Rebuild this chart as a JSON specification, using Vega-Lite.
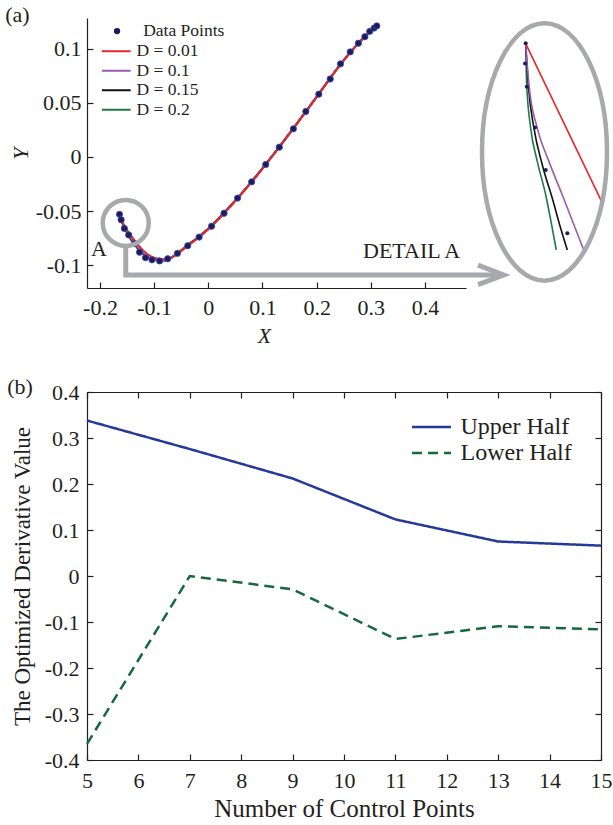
{
  "$schema": "https://vega.github.io/schema/vega-lite/v6.json",
  "background": "white",
  "padding": {"left": 5, "top": 4, "right": 0, "bottom": 0},
  "spacing": 30,
  "resolve": {"scale": {"stroke": "independent", "strokeDash": "independent", "fill": "independent"}, "legend": {"stroke": "independent", "strokeDash": "independent", "fill": "independent"}},
  "config": {
    "font": "Liberation Serif",
    "view": {"stroke": null},
    "axis": {"grid": false, "domainColor": "#231f20", "tickColor": "#231f20", "labelColor": "#231f20", "titleColor": "#231f20", "labelFont": "Liberation Serif", "titleFont": "Liberation Serif", "labelFontSize": 22, "titleFontSize": 22, "titleFontWeight": "normal", "tickSize": -6, "domainWidth": 1.2, "tickWidth": 1.2, "labelFlush": false, "labelOverlap": false},
    "legend": {"labelFont": "Liberation Serif", "labelColor": "#231f20"},
    "title": {"font": "Liberation Serif", "fontWeight": "normal", "fontSize": 22, "color": "#231f20", "anchor": "start", "frame": "bounds"}
  },
  "datasets": {
    "points": [
      {"x": -0.164, "y": -0.053}, {"x": -0.161, "y": -0.058}, {"x": -0.155, "y": -0.066}, {"x": -0.147, "y": -0.072},
      {"x": -0.136, "y": -0.080}, {"x": -0.127, "y": -0.088}, {"x": -0.116, "y": -0.093}, {"x": -0.104, "y": -0.095},
      {"x": -0.090, "y": -0.096}, {"x": -0.075, "y": -0.094}, {"x": -0.057, "y": -0.089}, {"x": -0.038, "y": -0.082},
      {"x": -0.017, "y": -0.074}, {"x": 0.006, "y": -0.064}, {"x": 0.029, "y": -0.052}, {"x": 0.054, "y": -0.038},
      {"x": 0.080, "y": -0.023}, {"x": 0.106, "y": -0.007}, {"x": 0.131, "y": 0.009}, {"x": 0.157, "y": 0.026},
      {"x": 0.180, "y": 0.042}, {"x": 0.204, "y": 0.058}, {"x": 0.225, "y": 0.072}, {"x": 0.244, "y": 0.086},
      {"x": 0.262, "y": 0.097}, {"x": 0.277, "y": 0.105}, {"x": 0.289, "y": 0.111}, {"x": 0.298, "y": 0.116},
      {"x": 0.306, "y": 0.119}, {"x": 0.311, "y": 0.121}
    ],
    "curves": [
      {"series": "D = 0.2", "x": -0.1645, "y": -0.0535}, {"series": "D = 0.2", "x": -0.155, "y": -0.0655}, {"series": "D = 0.2", "x": -0.14, "y": -0.0785}, {"series": "D = 0.2", "x": -0.12, "y": -0.0895}, {"series": "D = 0.2", "x": -0.10, "y": -0.0950}, {"series": "D = 0.2", "x": -0.08, "y": -0.0955}, {"series": "D = 0.2", "x": -0.06, "y": -0.0900}, {"series": "D = 0.2", "x": -0.04, "y": -0.0820}, {"series": "D = 0.2", "x": -0.02, "y": -0.0745}, {"series": "D = 0.2", "x": 0.0, "y": -0.0660}, {"series": "D = 0.2", "x": 0.04, "y": -0.0455}, {"series": "D = 0.2", "x": 0.08, "y": -0.0225}, {"series": "D = 0.2", "x": 0.12, "y": 0.0025}, {"series": "D = 0.2", "x": 0.16, "y": 0.0285}, {"series": "D = 0.2", "x": 0.20, "y": 0.0555}, {"series": "D = 0.2", "x": 0.24, "y": 0.0830}, {"series": "D = 0.2", "x": 0.27, "y": 0.1013}, {"series": "D = 0.2", "x": 0.29, "y": 0.1118}, {"series": "D = 0.2", "x": 0.312, "y": 0.1215},
      {"series": "D = 0.15", "x": -0.164, "y": -0.0540}, {"series": "D = 0.15", "x": -0.155, "y": -0.0650}, {"series": "D = 0.15", "x": -0.14, "y": -0.0780}, {"series": "D = 0.15", "x": -0.12, "y": -0.0893}, {"series": "D = 0.15", "x": -0.10, "y": -0.0950}, {"series": "D = 0.15", "x": -0.08, "y": -0.0955}, {"series": "D = 0.15", "x": -0.06, "y": -0.0902}, {"series": "D = 0.15", "x": -0.04, "y": -0.0822}, {"series": "D = 0.15", "x": -0.02, "y": -0.0748}, {"series": "D = 0.15", "x": 0.0, "y": -0.0663}, {"series": "D = 0.15", "x": 0.04, "y": -0.0457}, {"series": "D = 0.15", "x": 0.08, "y": -0.0228}, {"series": "D = 0.15", "x": 0.12, "y": 0.0022}, {"series": "D = 0.15", "x": 0.16, "y": 0.0285}, {"series": "D = 0.15", "x": 0.20, "y": 0.0555}, {"series": "D = 0.15", "x": 0.24, "y": 0.0830}, {"series": "D = 0.15", "x": 0.27, "y": 0.1012}, {"series": "D = 0.15", "x": 0.29, "y": 0.1117}, {"series": "D = 0.15", "x": 0.312, "y": 0.1215},
      {"series": "D = 0.1", "x": -0.1638, "y": -0.0545}, {"series": "D = 0.1", "x": -0.155, "y": -0.0640}, {"series": "D = 0.1", "x": -0.14, "y": -0.0770}, {"series": "D = 0.1", "x": -0.12, "y": -0.0888}, {"series": "D = 0.1", "x": -0.10, "y": -0.0948}, {"series": "D = 0.1", "x": -0.08, "y": -0.0955}, {"series": "D = 0.1", "x": -0.06, "y": -0.0903}, {"series": "D = 0.1", "x": -0.04, "y": -0.0824}, {"series": "D = 0.1", "x": -0.02, "y": -0.0750}, {"series": "D = 0.1", "x": 0.0, "y": -0.0665}, {"series": "D = 0.1", "x": 0.04, "y": -0.0458}, {"series": "D = 0.1", "x": 0.08, "y": -0.0230}, {"series": "D = 0.1", "x": 0.12, "y": 0.0020}, {"series": "D = 0.1", "x": 0.16, "y": 0.0284}, {"series": "D = 0.1", "x": 0.20, "y": 0.0554}, {"series": "D = 0.1", "x": 0.24, "y": 0.0829}, {"series": "D = 0.1", "x": 0.27, "y": 0.1011}, {"series": "D = 0.1", "x": 0.29, "y": 0.1116}, {"series": "D = 0.1", "x": 0.312, "y": 0.1215},
      {"series": "D = 0.01", "x": -0.1636, "y": -0.0551}, {"series": "D = 0.01", "x": -0.155, "y": -0.0635}, {"series": "D = 0.01", "x": -0.14, "y": -0.0745}, {"series": "D = 0.01", "x": -0.12, "y": -0.0865}, {"series": "D = 0.01", "x": -0.10, "y": -0.0930}, {"series": "D = 0.01", "x": -0.08, "y": -0.0945}, {"series": "D = 0.01", "x": -0.06, "y": -0.0905}, {"series": "D = 0.01", "x": -0.04, "y": -0.0828}, {"series": "D = 0.01", "x": -0.02, "y": -0.0752}, {"series": "D = 0.01", "x": 0.0, "y": -0.0668}, {"series": "D = 0.01", "x": 0.04, "y": -0.0462}, {"series": "D = 0.01", "x": 0.08, "y": -0.0233}, {"series": "D = 0.01", "x": 0.12, "y": 0.0018}, {"series": "D = 0.01", "x": 0.16, "y": 0.0283}, {"series": "D = 0.01", "x": 0.20, "y": 0.0553}, {"series": "D = 0.01", "x": 0.24, "y": 0.0828}, {"series": "D = 0.01", "x": 0.27, "y": 0.1010}, {"series": "D = 0.01", "x": 0.29, "y": 0.1115}, {"series": "D = 0.01", "x": 0.312, "y": 0.1215}
    ],
    "insetCurves": [
      {"series": "D = 0.2", "x": 0.5859, "y": 0.1046}, {"series": "D = 0.2", "x": 0.5878, "y": 0.0665}, {"series": "D = 0.2", "x": 0.5952, "y": 0.0264}, {"series": "D = 0.2", "x": 0.6074, "y": -0.0043}, {"series": "D = 0.2", "x": 0.6229, "y": -0.0351}, {"series": "D = 0.2", "x": 0.6350, "y": -0.0659}, {"series": "D = 0.2", "x": 0.6424, "y": -0.0859},
      {"series": "D = 0.15", "x": 0.5859, "y": 0.1046}, {"series": "D = 0.15", "x": 0.5907, "y": 0.0665}, {"series": "D = 0.15", "x": 0.6012, "y": 0.0264}, {"series": "D = 0.15", "x": 0.6166, "y": -0.0074}, {"series": "D = 0.15", "x": 0.6350, "y": -0.0382}, {"series": "D = 0.15", "x": 0.6505, "y": -0.0659}, {"series": "D = 0.15", "x": 0.6627, "y": -0.0859},
      {"series": "D = 0.1", "x": 0.5859, "y": 0.1046}, {"series": "D = 0.1", "x": 0.5920, "y": 0.0665}, {"series": "D = 0.1", "x": 0.6074, "y": 0.0264}, {"series": "D = 0.1", "x": 0.6289, "y": -0.0043}, {"series": "D = 0.1", "x": 0.6535, "y": -0.0351}, {"series": "D = 0.1", "x": 0.6751, "y": -0.0628}, {"series": "D = 0.1", "x": 0.6923, "y": -0.0850},
      {"series": "D = 0.01", "x": 0.5859, "y": 0.1046}, {"series": "D = 0.01", "x": 0.7262, "y": -0.0413}
    ],
    "insetPoints": [
      {"x": 0.5859, "y": 0.1049}, {"x": 0.5847, "y": 0.0864}, {"x": 0.5878, "y": 0.0649},
      {"x": 0.6031, "y": 0.0271}, {"x": 0.6229, "y": -0.0120}, {"x": 0.6627, "y": -0.0705}
    ],
    "arrow": [
      {"part": "shaft", "order": 1, "x": -0.1525, "y": -0.0819},
      {"part": "shaft", "order": 2, "x": -0.1525, "y": -0.1090},
      {"part": "shaft", "order": 3, "x": 0.5422, "y": -0.1090},
      {"part": "head", "order": 1, "x": 0.4979, "y": -0.0999},
      {"part": "head", "order": 2, "x": 0.5450, "y": -0.1090},
      {"part": "head", "order": 3, "x": 0.4979, "y": -0.1179}
    ],
    "labels": [
      {"text": "A", "x": -0.2018, "y": -0.0847},
      {"text": "DETAIL A", "x": 0.3751, "y": -0.0865}
    ],
    "deriv": [
      {"series": "Upper Half", "n": 5, "value": 0.338}, {"series": "Upper Half", "n": 7, "value": 0.276}, {"series": "Upper Half", "n": 9, "value": 0.212},
      {"series": "Upper Half", "n": 11, "value": 0.123}, {"series": "Upper Half", "n": 13, "value": 0.075}, {"series": "Upper Half", "n": 15, "value": 0.066},
      {"series": "Lower Half", "n": 5, "value": -0.365}, {"series": "Lower Half", "n": 7, "value": 0.0}, {"series": "Lower Half", "n": 9, "value": -0.029},
      {"series": "Lower Half", "n": 11, "value": -0.137}, {"series": "Lower Half", "n": 13, "value": -0.109}, {"series": "Lower Half", "n": 15, "value": -0.116}
    ]
  },
  "vconcat": [
    {
      "width": 379,
      "height": 270,
      "title": {"text": "(a)", "offset": -13, "dx": -4},
      "encoding": {
        "x": {"field": "x", "type": "quantitative", "scale": {"domain": [-0.224, 0.4757], "nice": false, "zero": false},
          "axis": {"values": [-0.2, -0.1, 0, 0.1, 0.2, 0.3, 0.4], "format": "~g", "labelExpr": "replace(datum.label, '\u2212', '-')", "labelPadding": 15, "title": "X", "titleFontStyle": "italic", "titlePadding": 7, "titleX": 177}},
        "y": {"field": "y", "type": "quantitative", "scale": {"domain": [-0.121, 0.1283], "nice": false, "zero": false},
          "axis": {"values": [-0.1, -0.05, 0, 0.05, 0.1], "format": "~g", "labelExpr": "replace(datum.label, '\u2212', '-')", "labelPadding": 12, "title": "Y", "titleFontStyle": "italic", "titlePadding": 3}}
      },
      "layer": [
        {
          "data": {"name": "curves"},
          "mark": {"type": "line", "strokeWidth": 2, "interpolate": "monotone"},
          "encoding": {
            "stroke": {"field": "series", "type": "nominal", "sort": null,
              "scale": {"domain": ["D = 0.01", "D = 0.1", "D = 0.15", "D = 0.2"], "range": ["#e8262a", "#9b59b3", "#111111", "#1d7a43"]},
              "legend": {"title": null, "orient": "none", "legendX": 20.5, "legendY": 24.5, "padding": 0, "symbolType": "M -2.4 0 L 2.4 0", "symbolSize": 144, "symbolStrokeWidth": 2, "labelFontSize": 17.5, "labelOffset": 11.5, "rowPadding": 0.5}}
          }
        },
        {
          "data": {"name": "insetCurves"},
          "mark": {"type": "line", "strokeWidth": 1.6, "interpolate": "monotone"},
          "encoding": {
            "stroke": {"field": "series", "type": "nominal"}
          }
        },
        {
          "data": {"name": "points"},
          "mark": {"type": "point", "filled": true, "size": 40, "stroke": "#4252ab", "strokeWidth": 0.8, "opacity": 1},
          "encoding": {
            "fill": {"datum": "Data Points", "type": "nominal", "scale": {"range": ["#1b1b5e"]},
              "legend": {"title": null, "orient": "none", "legendX": 21.3, "legendY": 4.3, "padding": 0, "symbolType": "circle", "symbolSize": 40, "symbolStrokeWidth": 0, "labelFontSize": 17.5, "labelOffset": 17.4}}
          }
        },
        {
          "data": {"name": "insetPoints"},
          "mark": {"type": "point", "filled": true, "size": 16, "color": "#1b1b5e", "opacity": 1}
        },
        {
          "data": {"values": [{"x": -0.1525, "y": -0.0609}]},
          "mark": {"type": "point", "shape": "circle", "size": 2116, "filled": false, "stroke": "#a8a9ad", "strokeWidth": 4.5, "opacity": 1}
        },
        {
          "data": {"values": [{"x": 0.6206, "y": 0.0046}]},
          "mark": {"type": "point", "shape": "M -0.4856 0 A 0.4856 1 0 1 0 0.4856 0 A 0.4856 1 0 1 0 -0.4856 0 Z", "size": 66255, "filled": false, "stroke": "#a8a9ad", "strokeWidth": 4.5, "opacity": 1}
        },
        {
          "data": {"name": "arrow"},
          "mark": {"type": "line", "color": "#a8a9ad", "strokeWidth": 5, "strokeCap": "butt", "strokeJoin": "miter"},
          "encoding": {
            "detail": {"field": "part", "type": "nominal"},
            "order": {"field": "order", "type": "quantitative"}
          }
        },
        {
          "data": {"name": "labels"},
          "mark": {"type": "text", "font": "Liberation Serif", "fontSize": 22, "color": "#231f20", "align": "center", "baseline": "middle"},
          "encoding": {"text": {"field": "text", "type": "nominal"}}
        }
      ]
    },
    {
      "width": 514,
      "height": 368,
      "title": {"text": "(b)", "offset": -18, "dx": -4},
      "data": {"name": "deriv"},
      "encoding": {
        "x": {"field": "n", "type": "quantitative", "scale": {"domain": [5, 15], "nice": false, "zero": false}},
        "y": {"field": "value", "type": "quantitative", "scale": {"domain": [-0.4, 0.4], "nice": false, "zero": false}}
      },
      "layer": [
        {
          "mark": {"type": "line", "strokeWidth": 2.5},
          "encoding": {
            "x": {"field": "n", "type": "quantitative", "axis": {"values": [5, 6, 7, 8, 9, 10, 11, 12, 13, 14, 15], "labelPadding": 16, "title": "Number of Control Points", "titleFontSize": 25, "titlePadding": 5}},
            "y": {"field": "value", "type": "quantitative", "axis": {"values": [-0.4, -0.3, -0.2, -0.1, 0, 0.1, 0.2, 0.3, 0.4], "format": "~g", "labelExpr": "replace(datum.label, '\u2212', '-')", "labelPadding": 14, "title": "The Optimized Derivative Value", "titleFontSize": 23, "titlePadding": 10}},
            "stroke": {"field": "series", "type": "nominal", "sort": null,
              "scale": {"domain": ["Upper Half", "Lower Half"], "range": ["#24399a", "#17693b"]},
              "legend": {"title": null, "orient": "none", "legendX": 332.5, "legendY": 23, "padding": 0, "symbolType": "M -3.25 0 L 3.25 0", "symbolSize": 144, "symbolStrokeWidth": 2.5, "labelFontSize": 24, "labelOffset": 17, "rowPadding": 2}},
            "strokeDash": {"field": "series", "type": "nominal", "sort": null,
              "scale": {"domain": ["Upper Half", "Lower Half"], "range": [[1, 0], [10, 6]]},
              "legend": {"title": null, "orient": "none", "legendX": 332.5, "legendY": 23, "padding": 0, "symbolType": "M -3.25 0 L 3.25 0", "symbolSize": 144, "symbolStrokeWidth": 2.5, "labelFontSize": 24, "labelOffset": 17, "rowPadding": 2}}
          }
        },
        {
          "mark": {"type": "line", "opacity": 0},
          "encoding": {
            "x": {"field": "n", "type": "quantitative", "axis": {"orient": "top", "values": [5, 6, 7, 8, 9, 10, 11, 12, 13, 14, 15], "labels": false, "title": null}},
            "y": {"field": "value", "type": "quantitative", "axis": {"orient": "right", "values": [-0.4, -0.3, -0.2, -0.1, 0, 0.1, 0.2, 0.3, 0.4], "labels": false, "title": null}},
            "detail": {"field": "series", "type": "nominal"}
          }
        }
      ],
      "resolve": {"axis": {"x": "independent", "y": "independent"}}
    }
  ]
}
